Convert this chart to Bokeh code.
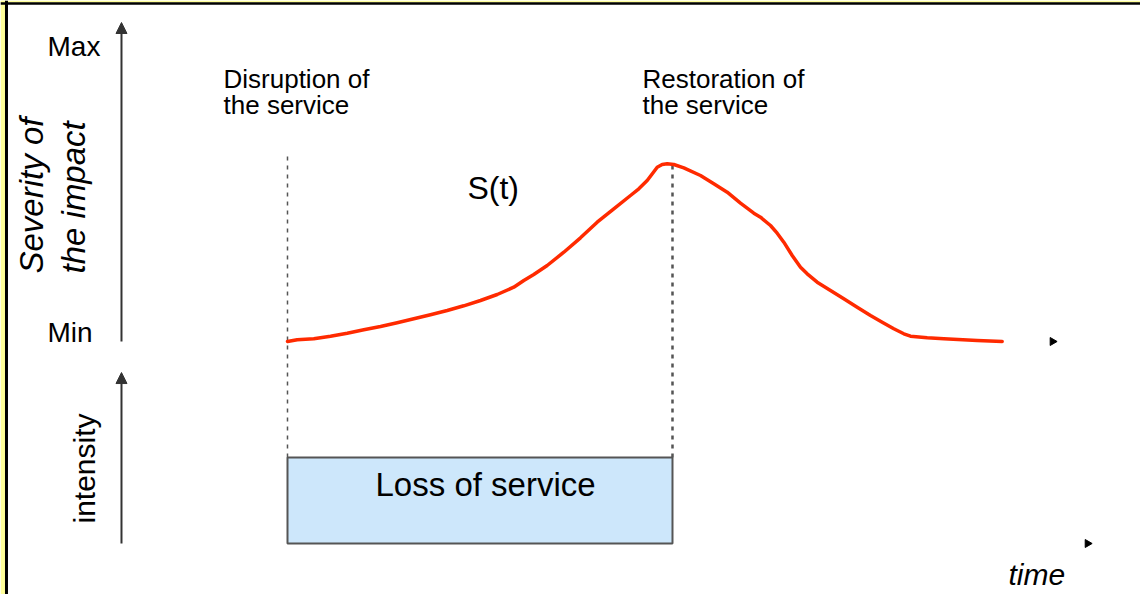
import math
from bokeh.plotting import figure
from bokeh.models import Range1d, Arrow, NormalHead, Label, Span, BoxAnnotation, ColumnDataSource
from bokeh.embed import file_html
from bokeh.resources import INLINE

# ---- data (arbitrary units) ----
time_pts = [0.0, 0.252, 0.683, 1.117, 1.551, 1.982, 2.416, 2.849, 3.281, 3.714,
            4.148, 4.579, 5.013, 5.447, 5.878, 6.138, 6.397, 6.745, 7.177, 7.610,
            8.044, 8.475, 8.909, 9.125, 9.343, 9.481, 9.603, 9.732, 9.862, 10.034,
            10.294, 10.727, 11.073, 11.421, 11.766, 12.112, 12.286, 12.545, 12.719,
            12.891, 13.109, 13.325, 13.499, 13.758, 14.104, 14.449, 14.797, 15.143,
            15.447, 15.748, 16.008, 16.182, 16.616, 17.047, 17.914, 18.564]
severity_pts = [0.0, 0.058, 0.092, 0.180, 0.282, 0.398, 0.510, 0.636, 0.772, 0.908,
                1.054, 1.214, 1.395, 1.599, 1.847, 2.075, 2.279, 2.585, 3.037, 3.527,
                4.058, 4.514, 4.966, 5.194, 5.476, 5.714, 5.929, 6.020, 6.044, 6.020,
                5.908, 5.646, 5.364, 5.078, 4.704, 4.364, 4.228, 3.946, 3.684,
                3.378, 2.925, 2.527, 2.303, 2.017, 1.735, 1.452, 1.167, 0.884,
                0.656, 0.432, 0.262, 0.180, 0.126, 0.092, 0.034, 0.0]
disruption_t = 0.0
restoration_t = 10.0
loss_intensity = 1.0
sev_min, sev_max = 0.0, 10.0
sev_tick_labels = ["Min", "Max"]
event_labels = [["Disruption of", "the service"], ["Restoration of", "the service"]]

FONT = "Liberation Sans"
INK = "#333333"
PX_PER_T = 38.5
PX_PER_SEV = 29.4
PX_PER_INT = 86.0

p = figure(width=1140, height=594,
           x_range=Range1d(-7.4545, 22.156),
           y_range=Range1d(-8.6054, 11.5986),
           output_backend="svg", toolbar_location=None,
           x_axis_location=None, y_axis_location=None,
           min_border=0, outline_line_color=None,
           background_fill_color="white", border_fill_color="white")
p.grid.visible = False
p.extra_y_ranges = {"int": Range1d(-0.593, 6.3140)}

# yellow frame with black inner line (left / top)
p.add_layout(BoxAnnotation(right=-7.325, fill_color="#ffff99", fill_alpha=1.0, line_color=None))
p.add_layout(BoxAnnotation(bottom=11.53, fill_color="#ffff99", fill_alpha=1.0, line_color=None))
p.add_layout(Span(location=-7.299, dimension="height", line_color="black", line_width=3))
p.add_layout(Span(location=11.4966, dimension="width", line_color="black", line_width=2.5))

# axes arrows
axis_t = -4.312
p.add_layout(Arrow(end=NormalHead(size=11, fill_color=INK, line_color=INK),
                   x_start=axis_t, y_start=sev_min, x_end=axis_t, y_end=10.85,
                   line_color=INK, line_width=2))
p.add_layout(Arrow(end=NormalHead(size=11, fill_color=INK, line_color=INK),
                   x_start=axis_t, y_start=0.0, x_end=axis_t, y_end=1.988,
                   line_color=INK, line_width=2, y_range_name="int"))

# time arrow heads
p.scatter([19.87], [sev_min], marker="triangle", angle=-math.pi / 2, size=8,
          fill_color="black", line_color="black")
p.scatter([20.78], [0.0], marker="triangle", angle=-math.pi / 2, size=8,
          fill_color="black", line_color="black", y_range_name="int")

# loss of service box
p.quad(left=[disruption_t], right=[restoration_t], bottom=[0.0], top=[loss_intensity],
       fill_color="#cde7fb", line_color="#555555", line_width=2, y_range_name="int")

# event guide lines
p.segment(x0=[disruption_t], y0=[loss_intensity], x1=[disruption_t], y1=[4.512],
          line_color="#555555", line_width=1.5, line_dash="4 5", y_range_name="int")
p.segment(x0=[restoration_t], y0=[loss_intensity], x1=[restoration_t], y1=[4.395],
          line_color="#555555", line_width=2.5, line_dash="4 5", y_range_name="int")

# severity curve
src = ColumnDataSource(dict(t=time_pts, s=severity_pts))
p.line("t", "s", source=src, line_color="#ff2a00", line_width=3.5,
       line_join="round", line_cap="round")

def lab(text, x, y, size, rng="default", style="normal", angle=0.0):
    # compensate the renderer's baseline offset
    if angle == 0.0:
        y = y + 0.38 * size / (PX_PER_INT if rng == "int" else PX_PER_SEV)
    else:
        x = x - 0.36 * size / PX_PER_T
    p.add_layout(Label(text=text, x=x, y=y, text_font=FONT,
                       text_font_size=f"{size}px", text_font_style=style,
                       text_align="left", text_baseline="alphabetic",
                       text_color="black", angle=angle, y_range_name=rng))

# tick labels
lab(sev_tick_labels[1], -6.234, 9.66, 28)
lab(sev_tick_labels[0], -6.234, -0.068, 28)

# event labels
lab(event_labels[0][0], -1.662, 8.605, 26)
lab(event_labels[0][1], -1.662, 7.721, 26)
lab(event_labels[1][0], 9.221, 8.605, 26)
lab(event_labels[1][1], 9.221, 7.721, 26)

lab("S(t)", 4.675, 4.796, 32)
lab("Loss of service", 2.286, 0.535, 33, rng="int")
lab("time", 18.727, -0.49, 30, rng="int", style="italic")

# rotated axis titles
lab("Severity of", -6.338, 2.313, 33, style="italic", angle=math.pi / 2)
lab("the impact", -5.247, 2.313, 33, style="italic", angle=math.pi / 2)
lab("intensity", -4.987, 0.2326, 30, rng="int", angle=math.pi / 2)

open("out.html", "w").write(file_html(p, INLINE))
